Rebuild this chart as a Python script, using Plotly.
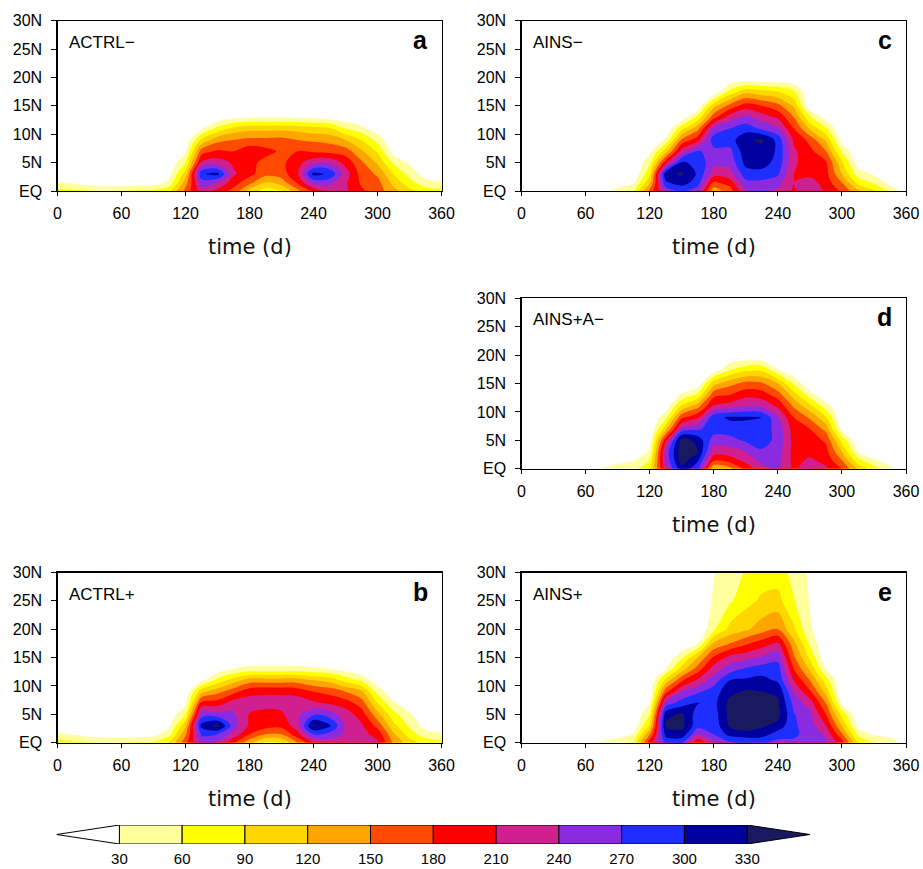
import numpy as np
import plotly.graph_objects as go

# ---------------- data ----------------
days = list(range(0, 361, 15))                     # time (d)
lats = [0, 1.5, 3, 5, 7, 9, 11, 13, 15, 17.5, 20, 25, 30]   # latitude (deg N)
levels = [30, 60, 90, 120, 150, 180, 210, 240, 270, 300, 330]
colors = ["#FFFFFF", "#FFFF9E", "#FFFF00", "#FFD700", "#FFA500", "#FF4A00",
          "#FF0000", "#D0208F", "#8A2BE2", "#1E2EFF", "#0000A0", "#191960"]
day_ticks = [0, 60, 120, 180, 240, 300, 360]
lat_ticks = [0, 5, 10, 15, 20, 25, 30]
lat_labels = ["EQ", "5N", "10N", "15N", "20N", "25N", "30N"]

# each inner list: one time column, values at lats (bottom -> top)
actrl_minus = [
    [70, 30, 10, 0, 0, 0, 0, 0, 0, 0, 0, 0, 0],
    [65, 25, 5, 0, 0, 0, 0, 0, 0, 0, 0, 0, 0],
    [62, 10, 0, 0, 0, 0, 0, 0, 0, 0, 0, 0, 0],
    [58, 5, 0, 0, 0, 0, 0, 0, 0, 0, 0, 0, 0],
    [62, 5, 0, 0, 0, 0, 0, 0, 0, 0, 0, 0, 0],
    [64, 8, 0, 0, 0, 0, 0, 0, 0, 0, 0, 0, 0],
    [66, 12, 0, 0, 0, 0, 0, 0, 0, 0, 0, 0, 0],
    [85, 40, 20, 5, 0, 0, 0, 0, 0, 0, 0, 0, 0],
    [160, 135, 105, 60, 25, 5, 0, 0, 0, 0, 0, 0, 0],
    [225, 255, 295, 215, 165, 95, 25, 0, 0, 0, 0, 0, 0],
    [200, 240, 310, 225, 185, 140, 70, 5, 0, 0, 0, 0, 0],
    [170, 195, 215, 205, 180, 150, 100, 20, 0, 0, 0, 0, 0],
    [110, 160, 190, 190, 200, 158, 110, 28, 0, 0, 0, 0, 0],
    [75, 120, 160, 170, 190, 158, 110, 28, 0, 0, 0, 0, 0],
    [90, 135, 165, 172, 175, 160, 112, 28, 0, 0, 0, 0, 0],
    [140, 185, 205, 200, 180, 150, 108, 26, 0, 0, 0, 0, 0],
    [190, 250, 310, 230, 175, 145, 100, 22, 0, 0, 0, 0, 0],
    [220, 250, 295, 235, 170, 140, 95, 15, 0, 0, 0, 0, 0],
    [215, 215, 225, 200, 165, 120, 60, 8, 0, 0, 0, 0, 0],
    [185, 175, 168, 155, 125, 90, 40, 0, 0, 0, 0, 0, 0],
    [165, 160, 145, 115, 85, 50, 10, 0, 0, 0, 0, 0, 0],
    [130, 110, 90, 55, 15, 0, 0, 0, 0, 0, 0, 0, 0],
    [100, 70, 50, 25, 0, 0, 0, 0, 0, 0, 0, 0, 0],
    [75, 40, 15, 0, 0, 0, 0, 0, 0, 0, 0, 0, 0],
    [70, 32, 10, 0, 0, 0, 0, 0, 0, 0, 0, 0, 0],
]

actrl_plus = [
    [75, 35, 12, 0, 0, 0, 0, 0, 0, 0, 0, 0, 0],
    [68, 28, 8, 0, 0, 0, 0, 0, 0, 0, 0, 0, 0],
    [63, 15, 0, 0, 0, 0, 0, 0, 0, 0, 0, 0, 0],
    [60, 10, 0, 0, 0, 0, 0, 0, 0, 0, 0, 0, 0],
    [62, 10, 0, 0, 0, 0, 0, 0, 0, 0, 0, 0, 0],
    [64, 12, 0, 0, 0, 0, 0, 0, 0, 0, 0, 0, 0],
    [66, 18, 0, 0, 0, 0, 0, 0, 0, 0, 0, 0, 0],
    [95, 50, 25, 8, 0, 0, 0, 0, 0, 0, 0, 0, 0],
    [170, 145, 115, 60, 20, 5, 0, 0, 0, 0, 0, 0, 0],
    [250, 275, 310, 255, 190, 110, 20, 0, 0, 0, 0, 0, 0],
    [235, 270, 340, 250, 195, 140, 70, 10, 0, 0, 0, 0, 0],
    [185, 230, 255, 245, 225, 170, 105, 30, 0, 0, 0, 0, 0],
    [130, 180, 205, 208, 225, 200, 135, 40, 0, 0, 0, 0, 0],
    [85, 150, 195, 200, 222, 205, 135, 40, 0, 0, 0, 0, 0],
    [90, 150, 190, 205, 222, 205, 135, 40, 0, 0, 0, 0, 0],
    [150, 200, 225, 235, 225, 200, 135, 40, 0, 0, 0, 0, 0],
    [205, 270, 335, 265, 215, 180, 120, 35, 0, 0, 0, 0, 0],
    [220, 260, 305, 255, 205, 170, 110, 30, 0, 0, 0, 0, 0],
    [225, 235, 235, 225, 195, 150, 80, 15, 0, 0, 0, 0, 0],
    [220, 220, 215, 195, 165, 125, 55, 0, 0, 0, 0, 0, 0],
    [215, 200, 170, 130, 90, 50, 10, 0, 0, 0, 0, 0, 0],
    [145, 125, 100, 70, 35, 5, 0, 0, 0, 0, 0, 0, 0],
    [105, 75, 55, 35, 5, 0, 0, 0, 0, 0, 0, 0, 0],
    [80, 42, 18, 0, 0, 0, 0, 0, 0, 0, 0, 0, 0],
    [72, 35, 12, 0, 0, 0, 0, 0, 0, 0, 0, 0, 0],
]

ains_minus = [
    [0, 0, 0, 0, 0, 0, 0, 0, 0, 0, 0, 0, 0],
    [0, 0, 0, 0, 0, 0, 0, 0, 0, 0, 0, 0, 0],
    [0, 0, 0, 0, 0, 0, 0, 0, 0, 0, 0, 0, 0],
    [0, 0, 0, 0, 0, 0, 0, 0, 0, 0, 0, 0, 0],
    [0, 0, 0, 0, 0, 0, 0, 0, 0, 0, 0, 0, 0],
    [20, 0, 0, 0, 0, 0, 0, 0, 0, 0, 0, 0, 0],
    [40, 15, 0, 0, 0, 0, 0, 0, 0, 0, 0, 0, 0],
    [58, 25, 0, 0, 0, 0, 0, 0, 0, 0, 0, 0, 0],
    [160, 115, 85, 50, 20, 0, 0, 0, 0, 0, 0, 0, 0],
    [250, 295, 320, 200, 105, 35, 0, 0, 0, 0, 0, 0, 0],
    [275, 315, 335, 305, 225, 155, 80, 10, 0, 0, 0, 0, 0],
    [250, 285, 295, 290, 272, 200, 140, 70, 5, 0, 0, 0, 0],
    [130, 175, 225, 250, 262, 285, 250, 170, 110, 5, 0, 0, 0],
    [165, 195, 230, 250, 262, 285, 270, 225, 160, 70, 0, 0, 0],
    [240, 262, 285, 310, 320, 326, 285, 250, 195, 110, 0, 0, 0],
    [245, 262, 290, 312, 322, 334, 265, 225, 180, 100, 0, 0, 0],
    [235, 250, 275, 290, 295, 290, 245, 205, 160, 90, 0, 0, 0],
    [205, 210, 210, 215, 215, 205, 180, 150, 115, 65, 0, 0, 0],
    [230, 225, 200, 195, 190, 170, 115, 65, 5, 0, 0, 0, 0],
    [205, 195, 190, 185, 150, 115, 65, 15, 0, 0, 0, 0, 0],
    [175, 150, 120, 95, 55, 15, 0, 0, 0, 0, 0, 0, 0],
    [125, 80, 45, 15, 0, 0, 0, 0, 0, 0, 0, 0, 0],
    [95, 55, 25, 0, 0, 0, 0, 0, 0, 0, 0, 0, 0],
    [55, 20, 0, 0, 0, 0, 0, 0, 0, 0, 0, 0, 0],
    [15, 0, 0, 0, 0, 0, 0, 0, 0, 0, 0, 0, 0],
]

ains_a_minus = [
    [0, 0, 0, 0, 0, 0, 0, 0, 0, 0, 0, 0, 0],
    [0, 0, 0, 0, 0, 0, 0, 0, 0, 0, 0, 0, 0],
    [0, 0, 0, 0, 0, 0, 0, 0, 0, 0, 0, 0, 0],
    [0, 0, 0, 0, 0, 0, 0, 0, 0, 0, 0, 0, 0],
    [0, 0, 0, 0, 0, 0, 0, 0, 0, 0, 0, 0, 0],
    [32, 0, 0, 0, 0, 0, 0, 0, 0, 0, 0, 0, 0],
    [42, 20, 0, 0, 0, 0, 0, 0, 0, 0, 0, 0, 0],
    [52, 27, 0, 0, 0, 0, 0, 0, 0, 0, 0, 0, 0],
    [85, 60, 35, 15, 0, 0, 0, 0, 0, 0, 0, 0, 0],
    [230, 245, 250, 200, 110, 50, 10, 0, 0, 0, 0, 0, 0],
    [320, 345, 350, 345, 250, 175, 95, 35, 0, 0, 0, 0, 0],
    [280, 305, 330, 320, 265, 205, 140, 65, 10, 0, 0, 0, 0],
    [120, 185, 225, 255, 285, 290, 215, 170, 110, 5, 0, 0, 0],
    [140, 195, 225, 260, 285, 305, 225, 180, 140, 55, 0, 0, 0],
    [190, 220, 240, 275, 285, 305, 240, 200, 160, 80, 0, 0, 0],
    [230, 250, 265, 285, 285, 300, 235, 195, 155, 80, 0, 0, 0],
    [245, 250, 255, 260, 260, 245, 205, 165, 120, 30, 0, 0, 0],
    [205, 200, 200, 200, 195, 180, 145, 105, 55, 0, 0, 0, 0],
    [225, 215, 200, 195, 180, 145, 100, 45, 0, 0, 0, 0, 0],
    [215, 200, 190, 175, 140, 95, 45, 0, 0, 0, 0, 0, 0],
    [180, 150, 120, 80, 20, 0, 0, 0, 0, 0, 0, 0, 0],
    [115, 70, 30, 5, 0, 0, 0, 0, 0, 0, 0, 0, 0],
    [75, 35, 10, 0, 0, 0, 0, 0, 0, 0, 0, 0, 0],
    [40, 10, 0, 0, 0, 0, 0, 0, 0, 0, 0, 0, 0],
    [0, 0, 0, 0, 0, 0, 0, 0, 0, 0, 0, 0, 0],
]

ains_plus = [
    [0, 0, 0, 0, 0, 0, 0, 0, 0, 0, 0, 0, 0],
    [0, 0, 0, 0, 0, 0, 0, 0, 0, 0, 0, 0, 0],
    [0, 0, 0, 0, 0, 0, 0, 0, 0, 0, 0, 0, 0],
    [0, 0, 0, 0, 0, 0, 0, 0, 0, 0, 0, 0, 0],
    [20, 0, 0, 0, 0, 0, 0, 0, 0, 0, 0, 0, 0],
    [35, 0, 0, 0, 0, 0, 0, 0, 0, 0, 0, 0, 0],
    [48, 15, 0, 0, 0, 0, 0, 0, 0, 0, 0, 0, 0],
    [65, 32, 10, 0, 0, 0, 0, 0, 0, 0, 0, 0, 0],
    [200, 145, 95, 60, 28, 5, 0, 0, 0, 0, 0, 0, 0],
    [280, 310, 335, 320, 250, 170, 100, 30, 0, 0, 0, 0, 0],
    [275, 320, 340, 335, 285, 240, 175, 105, 55, 0, 0, 0, 0],
    [180, 245, 280, 285, 302, 265, 215, 165, 120, 30, 0, 0, 0],
    [235, 270, 280, 285, 290, 285, 255, 225, 185, 125, 55, 35, 28],
    [265, 310, 335, 340, 340, 320, 300, 255, 220, 150, 100, 55, 50],
    [270, 320, 345, 350, 345, 335, 305, 275, 230, 175, 115, 80, 62],
    [275, 315, 335, 345, 345, 330, 310, 285, 245, 195, 135, 95, 75],
    [260, 285, 320, 340, 335, 325, 295, 285, 260, 215, 150, 100, 75],
    [265, 275, 275, 272, 260, 240, 210, 180, 155, 130, 95, 62, 50],
    [255, 260, 255, 248, 225, 185, 150, 115, 85, 55, 35, 28, 25],
    [245, 235, 210, 180, 150, 110, 75, 30, 5, 0, 0, 0, 0],
    [195, 155, 120, 80, 25, 0, 0, 0, 0, 0, 0, 0, 0],
    [95, 50, 20, 0, 0, 0, 0, 0, 0, 0, 0, 0, 0],
    [62, 25, 0, 0, 0, 0, 0, 0, 0, 0, 0, 0, 0],
    [48, 15, 0, 0, 0, 0, 0, 0, 0, 0, 0, 0, 0],
    [20, 0, 0, 0, 0, 0, 0, 0, 0, 0, 0, 0, 0],
]

panel_names = ["ACTRL\u2212", "AINS\u2212", "AINS+A\u2212", "ACTRL+", "AINS+"]
panel_letters = ["a", "c", "d", "b", "e"]
panel_data = [actrl_minus, ains_minus, ains_a_minus, actrl_plus, ains_plus]

# ---------------- layout geometry (screen pixels) ----------------
W, H = 923, 869
left_col = (57.5, 441.5)
right_col = (521.5, 906.0)
top_row = (20.7, 191.0)
mid_row = (298.3, 468.7)
bot_row = (572.5, 742.7)
panel_boxes = [(left_col, top_row), (right_col, top_row), (right_col, mid_row),
               (left_col, bot_row), (right_col, bot_row)]


def xdom(px):
    return [px[0] / W, px[1] / W]


def ydom(py):
    return [1 - py[1] / H, 1 - py[0] / H]


FONT = "Liberation Sans, Arial, sans-serif"
n_bands = len(levels) + 1
cscale = [[k / (n_bands - 1), colors[k]] for k in range(n_bands)]

fig = go.Figure()
layout = dict(width=W, height=H, margin=dict(l=0, r=0, t=0, b=0, autoexpand=False),
              template="none",
              paper_bgcolor="white", plot_bgcolor="white", showlegend=False)
annotations = []
shapes = []

for i, (cols, (px, py)) in enumerate(zip(panel_data, panel_boxes)):
    n = i + 1
    xa = "x" if n == 1 else f"x{n}"
    ya = "y" if n == 1 else f"y{n}"
    z = np.array(cols, dtype=float).T
    fig.add_trace(go.Contour(
        x=days, y=lats, z=z, xaxis=xa, yaxis=ya,
        colorscale=cscale, autocontour=False,
        contours=dict(start=levels[0], end=levels[-1], size=levels[1] - levels[0],
                      coloring="fill", showlines=False),
        line=dict(width=0), showscale=False, hoverinfo="skip"))
    xkey = "xaxis" if n == 1 else f"xaxis{n}"
    ykey = "yaxis" if n == 1 else f"yaxis{n}"
    layout[xkey] = dict(domain=xdom(px), anchor=ya, range=[days[0], days[-1]],
                        tickvals=day_ticks, ticktext=[str(v) for v in day_ticks],
                        ticks="outside", ticklen=4, tickwidth=1, tickcolor="black",
                        showline=True, linecolor="black", linewidth=1.2, mirror=True,
                        showgrid=False, zeroline=False, ticklabelstandoff=4,
                        automargin=False, ticklabeloverflow="allow",
                        tickfont=dict(family=FONT, size=16, color="black"))
    layout[ykey] = dict(domain=ydom(py), anchor=xa, range=[lats[0], lats[-1]],
                        tickvals=lat_ticks, ticktext=lat_labels,
                        ticks="outside", ticklen=5, tickwidth=1, tickcolor="black",
                        showline=True, linecolor="black", linewidth=1.2, mirror=True,
                        showgrid=False, zeroline=False, ticklabelstandoff=6,
                        automargin=False,
                        tickfont=dict(family=FONT, size=16, color="black"))
    ph = py[1] - py[0]
    pw = px[1] - px[0]
    annotations.append(dict(text=panel_names[i], xref=f"{xa} domain", yref=f"{ya} domain",
                            x=9 / pw, y=1 - 21.5 / ph, xanchor="left", yanchor="middle",
                            showarrow=False, font=dict(family=FONT, size=17, color="black")))
    annotations.append(dict(text=f"<b>{panel_letters[i]}</b>", xref=f"{xa} domain",
                            yref=f"{ya} domain", x=1 - 12 / pw, y=1 - 19 / ph,
                            xanchor="right", yanchor="middle", showarrow=False,
                            font=dict(family=FONT, size=25, color="black")))
    annotations.append(dict(text="time (d)", xref=f"{xa} domain", yref=f"{ya} domain",
                            x=0.5, y=-56 / ph, xanchor="center", yanchor="middle",
                            showarrow=False,
                            font=dict(family="DejaVu Sans", size=21, color="#111")))

# ---------------- colour bar ----------------
cb_x = (56.6, 810.0)
cb_y = (825.0, 844.0)
cb_lo, cb_hi = levels[0] - (levels[1] - levels[0]), levels[-1] + (levels[1] - levels[0])
layout["xaxis6"] = dict(domain=xdom(cb_x), anchor="y6", range=[cb_lo, cb_hi],
                        tickvals=levels, ticktext=[str(v) for v in levels],
                        ticks="", showline=False, showgrid=False, zeroline=False,
                        ticklabelstandoff=4, automargin=False, ticklabeloverflow="allow",
                        tickfont=dict(family=FONT, size=15, color="black"))
layout["yaxis6"] = dict(domain=ydom(cb_y), anchor="x6", range=[0, 1], visible=False,
                        automargin=False)
fig.add_trace(go.Scatter(x=[cb_lo, cb_hi], y=[0.5, 0.5], xaxis="x6", yaxis="y6",
                         mode="markers", marker=dict(opacity=0), hoverinfo="skip"))
for k in range(len(levels) - 1):
    shapes.append(dict(type="rect", xref="x6", yref="y6", x0=levels[k], x1=levels[k + 1],
                       y0=0, y1=1, fillcolor=colors[k + 1],
                       line=dict(color="black", width=1)))
shapes.append(dict(type="path", xref="x6", yref="y6",
                   path=f"M {levels[0]} 0 L {cb_lo} 0.5 L {levels[0]} 1 Z",
                   fillcolor=colors[0], line=dict(color="black", width=1)))
shapes.append(dict(type="path", xref="x6", yref="y6",
                   path=f"M {levels[-1]} 0 L {cb_hi} 0.5 L {levels[-1]} 1 Z",
                   fillcolor=colors[-1], line=dict(color="black", width=1)))

layout["annotations"] = annotations
layout["shapes"] = shapes
fig.update_layout(**layout)
page_fix = ("document.body.style.margin='0px';"
            "document.body.style.overflow='hidden';"
            "document.documentElement.style.overflow='hidden';")
fig.write_html("out.html", post_script=page_fix,
               config={"displayModeBar": False, "staticPlot": True})
